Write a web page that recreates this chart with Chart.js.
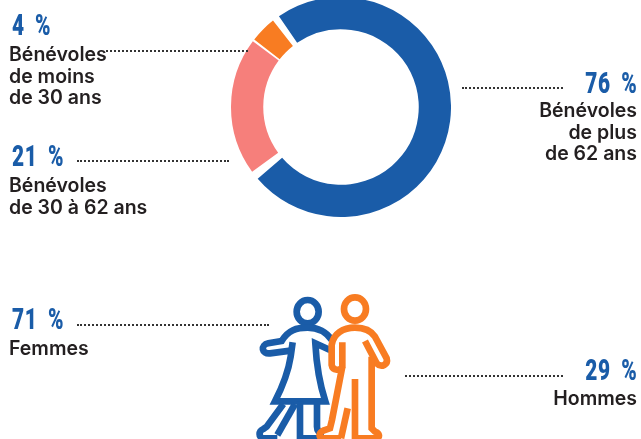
<!DOCTYPE html>
<html lang="fr">
<head>
<meta charset="utf-8">
<title>Bénévoles</title>
<script src="https://cdn.jsdelivr.net/npm/chart.js@4/dist/chart.umd.min.js"></script>
<style>
	html, body { margin: 0; padding: 0; background: #fff; overflow: hidden; }
	#page { position: relative; width: 641px; height: 439px; overflow: hidden; }
	#wrap { position: absolute; left: 231px; top: -3px; width: 220px; height: 220px; }
	.pct, .lab, .dots { position: absolute; }
	.pct { font: 900 29px/29px Roboto, sans-serif; color: #1a5ca8; letter-spacing: 1px; word-spacing: 6px; white-space: pre; transform: scaleX(0.72); transform-origin: left top; }
	.pct.right { transform-origin: right top; }
	.lab { font: 600 19.5px/21.5px Inter, sans-serif; color: #231f20; white-space: pre; }
	.right { text-align: right; }
	.dots { height: 0; border-top: 2px dotted #333; }
	svg { position: absolute; left: 0; top: 0; }
</style>
</head>
<body>
<div id="page">
	<div id="wrap"><canvas id="ageChart"></canvas></div>
	<svg width="641" height="439">
		<g transform="translate(220 285) scale(0.3333)" fill="none" stroke-width="20" stroke-linejoin="miter">
			<g stroke="#1a5ca8">
				<ellipse cx="263" cy="80" rx="33" ry="35"/>
				<path d="M335 165 C315 135 290 128 263 128 C230 128 205 135 185 168 L145 175 C120 180 125 208 150 205 L212 197"/>
				<path d="M218 172 L212 215 C205 260 185 310 165 349 L316 349 C300 300 290 250 286 175 L330 195"/>
				<path d="M190 357 L140 425 L130 432 C115 438 115 458 130 460 L172 460"/>
				<path d="M225 357 L172 450"/>
				<path d="M240 350 L240 470"/>
				<path d="M291 350 L291 425 C291 440 300 445 312 447"/>
				<path d="M240 460 L320 460"/>
			</g>
			<g stroke="#f87c22">
				<ellipse cx="405" cy="72" rx="33" ry="35"/>
				<path d="M367 172 L367 245 C362 258 338 258 335 240 L335 180 C340 145 370 128 405 128 C440 128 455 140 465 155 L500 220 C505 238 485 250 470 235 L435 168"/>
				<path d="M455 215 L455 430 L465 440 C480 445 480 458 470 460 L405 460"/>
				<path d="M405 282 L405 470"/>
				<path d="M367 245 L336 405 L330 430 L310 437 C295 445 295 458 310 460 L363 460"/>
				<path d="M383 370 L363 460"/>
			</g>
		</g>
	</svg>
</div>
<script>
// Data
const ageLabels = ["Bénévoles\nde plus\nde 62 ans", "Bénévoles\nde 30 à 62 ans", "Bénévoles\nde moins\nde 30 ans"];
const ageValues = [76, 21, 4];
const ageColors = ["#1a5ca8", "#f67f7b", "#f87c22"];
const genderLabels = ["Femmes", "Hommes"];
const genderValues = [71, 29];

new Chart(document.getElementById('ageChart'), {
	type: 'doughnut',
	data: {
		labels: ageLabels,
		datasets: [{
			data: ageValues,
			backgroundColor: ageColors,
			borderWidth: 0,
			spacing: 5
		}]
	},
	options: {
		responsive: true,
		maintainAspectRatio: true,
		animation: false,
		rotation: -38,
		cutout: '70%',
		plugins: { legend: { display: false }, tooltip: { enabled: false } }
	}
});

// Labels around the chart
const page = document.getElementById('page');
function addText(cls, text, x, y, right) {
	const el = document.createElement('div');
	el.className = cls + (right ? ' right' : '');
	el.textContent = text;
	el.style.top = y + 'px';
	if (right) el.style.right = (641 - x) + 'px';
	else el.style.left = x + 'px';
	page.append(el);
}
function addDots(x1, x2, y) {
	const el = document.createElement('div');
	el.className = 'dots';
	el.style.left = x1 + 'px';
	el.style.width = (x2 - x1) + 'px';
	el.style.top = y + 'px';
	page.append(el);
}

addText('pct', ageValues[2] + ' %', 12, 11);
addText('lab', ageLabels[2], 9, 44);
addDots(106, 248, 50);

addText('pct', ageValues[1] + ' %', 12, 142);
addText('lab', ageLabels[1], 9, 175);
addDots(77, 229, 160);

addText('pct', ageValues[0] + ' %', 637, 69, true);
addText('lab', ageLabels[0], 637, 100, true);
addDots(462, 563, 87);

addText('pct', genderValues[0] + ' %', 12, 305);
addText('lab', genderLabels[0], 9, 338);
addDots(77, 269, 324);

addText('pct', genderValues[1] + ' %', 637, 356, true);
addText('lab', genderLabels[1], 637, 388, true);
addDots(405, 563, 375);
</script>
</body>
</html>
